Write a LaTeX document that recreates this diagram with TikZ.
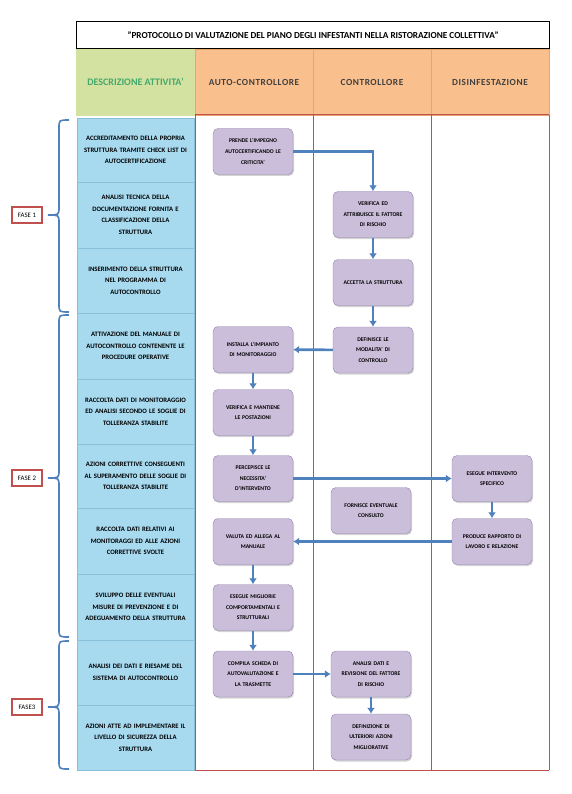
\documentclass[tikz,border=0pt]{standalone}
\usepackage{fontspec}
\setmainfont{Carlito}
\newfontfamily\spaziata[LetterSpace=6]{Carlito}
\usetikzlibrary{positioning, arrows.meta, shadows}
\definecolor{verdehead}{HTML}{D3E2A1}
\definecolor{verdetesto}{HTML}{45A86C}
\definecolor{arancio}{HTML}{F9C08E}
\definecolor{arancioline}{HTML}{E8A56E}
\definecolor{bluatt}{HTML}{A7D9EF}
\definecolor{bluline}{HTML}{88C0DA}
\definecolor{viola}{HTML}{CBBEDB}
\definecolor{violabordo}{HTML}{9484AE}
\definecolor{freccia}{HTML}{4F81BD}
\definecolor{rosso}{HTML}{C0504D}

\begin{document}
\begin{tikzpicture}[
    x=1pt, y=-1pt,
    >={Latex[length=6pt, width=8pt]},
    font={\bfseries},
    attivita/.style={draw=bluline, fill=bluatt, minimum width=117pt, text width=113pt, align=center, inner sep=0pt, font={\fontsize{6.7}{11.6}\selectfont\bfseries}},
    azione/.style={draw=violabordo, fill=viola, rounded corners=5pt, minimum width=80pt, minimum height=46pt, text width=76pt, align=center, inner sep=0pt, font={\fontsize{5.7}{10.6}\selectfont\bfseries}, drop shadow={shadow xshift=1pt, shadow yshift=-1.5pt, opacity=.35}},
    testata/.style={draw=arancioline, fill=arancio, minimum width=118pt, minimum height=66pt, inner sep=0pt, text=black!75, font={\spaziata\fontsize{9.3}{11}\selectfont\bfseries}},
    flusso/.style={->, draw=freccia, line width=2.6pt},
    corsia/.style={draw=rosso, line width=1pt},
    graffa/.style={draw=freccia, line width=1.6pt},
    fase/.style={draw=rosso, line width=1.2pt, fill=white, minimum width=30pt, minimum height=16pt, inner sep=0pt, font={\fontsize{6.8}{8}\selectfont}}
]
\useasboundingbox (0,0) rectangle (571,794);

% --- Titolo ---
\node[draw, line width=1.5pt, fill=white, minimum width=473pt, minimum height=27pt, inner sep=0pt, font={\fontsize{9.2}{11}\selectfont\bfseries}] (titolo) at (313,35) {"PROTOCOLLO DI VALUTAZIONE DEL PIANO DEGLI INFESTANTI NELLA RISTORAZIONE COLLETTIVA"};

% --- Intestazioni delle colonne ---
\node[draw=verdehead, fill=verdehead, minimum width=119pt, minimum height=66pt, inner sep=0pt, text=verdetesto, font={\fontsize{10}{12}\selectfont\bfseries}] (hdesc) at (135.5,82) {DESCRIZIONE ATTIVITA'};
\node[testata] (hauto) at (254,82) {AUTO-CONTROLLORE};
\node[testata] (hctrl) at (372,82) {CONTROLLORE};
\node[testata] (hdis)  at (490,82) {DISINFESTAZIONE};

% --- Colonna delle attivita' (10 righe) ---
\foreach \i/\sopra/\sotto/\testo in {
    1/118/182/{ACCREDITAMENTO DELLA PROPRIA\\STRUTTURA TRAMITE CHECK LIST DI\\AUTOCERTIFICAZIONE},
    2/182/248/{ANALISI TECNICA DELLA\\DOCUMENTAZIONE FORNITA E\\CLASSIFICAZIONE DELLA\\STRUTTURA},
    3/248/313/{INSERIMENTO DELLA STRUTTURA\\NEL PROGRAMMA DI\\AUTOCONTROLLO},
    4/313/379/{ATTIVAZIONE DEL MANUALE DI\\AUTOCONTROLLO CONTENENTE LE\\PROCEDURE OPERATIVE},
    5/379/444/{RACCOLTA DATI DI MONITORAGGIO\\ED ANALISI SECONDO LE SOGLIE DI\\TOLLERANZA STABILITE},
    6/444/508/{AZIONI CORRETTIVE CONSEGUENTI\\AL SUPERAMENTO DELLE SOGLIE DI\\TOLLERANZA STABILITE},
    7/508/574/{RACCOLTA DATI RELATIVI AI\\MONITORAGGI ED ALLE AZIONI\\CORRETTIVE SVOLTE},
    8/574/640/{SVILUPPO DELLE EVENTUALI\\MISURE DI PREVENZIONE E DI\\ADEGUAMENTO DELLA STRUTTURA},
    9/640/705/{ANALISI DEI DATI E RIESAME DEL\\SISTEMA DI AUTOCONTROLLO},
    10/705/770/{AZIONI ATTE AD IMPLEMENTARE IL\\LIVELLO DI SICUREZZA DELLA\\STRUTTURA}} {
    \node[attivita, minimum height={\sotto-\sopra}] (a\i) at (135.5,{(\sopra+\sotto)/2}) {\testo};
}

% --- Corsie (linee rosse) ---
\foreach \x in {195,313,431,549} {
    \draw[corsia] (\x,115) -- (\x,770);
}
\draw[corsia] (195,115) -- (549,115);
\draw[corsia] (195,770) -- (549,770);

% --- Graffe e fasi ---
\foreach \sopra/\punta/\sotto/\nome in {120/215/312/{FASE 1}, 315/478/637/{FASE 2}, 641/707/769/{FASE3}} {
    \draw[graffa] (69,\sopra) .. controls (59,\sopra) .. (59,{\sopra+8}) -- (59,{\punta-8})
        .. controls (59,\punta) .. (48,\punta) .. controls (59,\punta) .. (59,{\punta+8})
        -- (59,{\sotto-8}) .. controls (59,\sotto) .. (69,\sotto);
    \node[fase] at (27,\punta) {\nome};
}

% --- Auto-controllore ---
\node[azione] (prende)     at (253,151.5) {PRENDE L'IMPEGNO\\AUTOCERTIFICANDO LE\\CRITICITA'};
\node[azione] (installa)   at (253,349.5) {INSTALLA L'IMPIANTO\\DI MONITORAGGIO};
\node[azione] (mantiene)   at (253,412.5) {VERIFICA E MANTIENE\\LE POSTAZIONI};
\node[azione] (percepisce) at (253,478.5) {PERCEPISCE LE\\NECESSITA'\\D'INTERVENTO};
\node[azione] (valuta)     at (253,541.5) {VALUTA ED ALLEGA AL\\MANUALE};
\node[azione] (migliorie)  at (253,607.5) {ESEGUE MIGLIORIE\\COMPORTAMENTALI E\\STRUTTURALI};
\node[azione] (compila)    at (253,674)   {COMPILA SCHEDA DI\\AUTOVALUTAZIONE E\\LA TRASMETTE};

% --- Controllore ---
\node[azione] (verifica)    at (373,214.5) {VERIFICA ED\\ATTRIBUISCE IL FATTORE\\DI RISCHIO};
\node[azione] (accetta)     at (373,282.5) {ACCETTA LA STRUTTURA};
\node[azione] (definisce)   at (373,350)   {DEFINISCE LE\\MODALITA' DI\\CONTROLLO};
\node[azione] (fornisce)    at (371,510.5) {FORNISCE EVENTUALE\\CONSULTO};
\node[azione] (analisi)     at (371,674)   {ANALISI DATI E\\REVISIONE DEL FATTORE\\DI RISCHIO};
\node[azione] (definizione) at (371,737)   {DEFINIZIONE DI\\ULTERIORI AZIONI\\MIGLIORATIVE};

% --- Disinfestazione ---
\node[azione] (esegue)  at (492,478.5) {ESEGUE INTERVENTO\\SPECIFICO};
\node[azione] (produce) at (492,541.5) {PRODUCE RAPPORTO DI\\LAVORO E RELAZIONE};

% --- Flusso ---
\draw[flusso] (prende.east) -| (verifica.north);
\draw[flusso] (verifica) -- (accetta);
\draw[flusso] (accetta) -- (definisce);
\draw[flusso] (definisce) -- (installa);
\draw[flusso] (installa) -- (mantiene);
\draw[flusso] (mantiene) -- (percepisce);
\draw[flusso] (percepisce) -- (esegue);
\draw[flusso] (esegue) -- (produce);
\draw[flusso] (produce) -- (valuta);
\draw[flusso] (valuta) -- (migliorie);
\draw[flusso] (migliorie) -- (compila);
\draw[flusso] (compila) -- (analisi);
\draw[flusso] (analisi) -- (definizione);

\end{tikzpicture}
\end{document}
